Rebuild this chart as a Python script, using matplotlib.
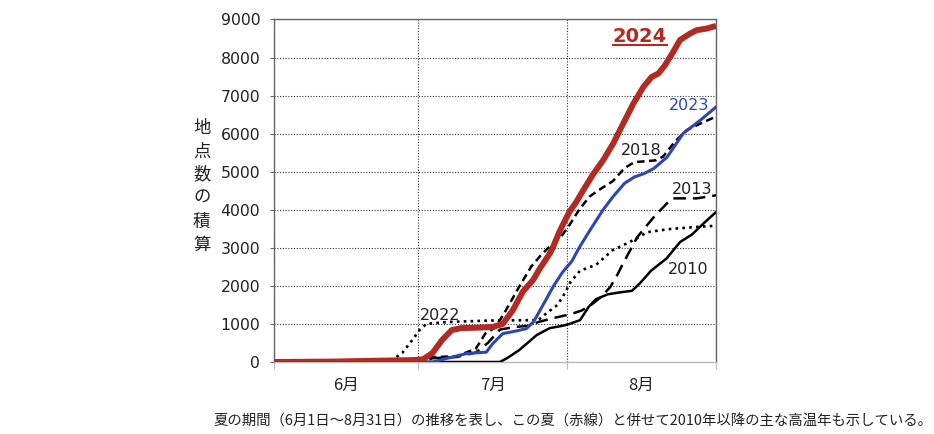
import matplotlib.pyplot as plt
from matplotlib.lines import Line2D
from matplotlib.ticker import FixedLocator, NullFormatter

plt.rcParams['font.family'] = ['DejaVu Sans', 'Noto Sans CJK JP']
jp = ['Noto Sans CJK JP', 'DejaVu Sans']

# days counted from June 1 (June = 0-30, July = 30-61, August = 61-92)
month_edges = [0, 30, 61, 92]
month_labels = ['6月', '7月', '8月']

d2024 = [0, 12, 20, 29, 31, 33, 35, 37, 39, 42, 45.5, 47.6, 49.7, 51.8, 53.9, 55.3, 57.4, 58,
         59.5, 61.5, 62.9, 64.3, 66.4, 68.5, 70.6, 72.7, 74.8, 76.9, 78.6, 80, 81.4, 83.1,
         84.5, 86.6, 88, 90, 92]
v2024 = [0, 10, 30, 50, 70, 240, 580, 840, 890, 900, 920, 1000, 1360, 1850, 2150, 2450, 2850, 3000,
         3450, 3950, 4200, 4500, 4930, 5300, 5740, 6270, 6790, 7230, 7490, 7580, 7800, 8150,
         8460, 8630, 8720, 8760, 8830]

d2023 = [0, 33, 35.8, 40, 44.2, 45.5, 47.6, 50.4, 52.5, 54, 56, 58.2, 60, 62, 63.5, 65.7, 68.5,
         70.6, 73, 75, 77, 79, 81.8, 85.2, 88.7, 92]
v2023 = [0, 0, 90, 220, 260, 480, 745, 815, 875, 1050, 1500, 2000, 2350, 2650, 3000, 3450, 4000,
         4350, 4700, 4860, 4950, 5080, 5380, 6010, 6350, 6700]

d2018 = [0, 31, 33, 38, 42, 44, 46, 48, 51, 53.5, 55.5, 57.5, 59.5, 61.5, 63.5, 65.7, 68, 70.5,
         73, 75, 79.5, 81, 83.5, 86, 88.5, 92]
v2018 = [0, 0, 130, 150, 350, 750, 900, 1300, 1970, 2500, 2800, 3050, 3250, 3600, 4000, 4350,
         4550, 4750, 5100, 5250, 5300, 5400, 5800, 6100, 6250, 6450]

d2013 = [0, 31, 33, 38, 42, 44.5, 47, 50, 53, 55, 58, 61.5, 64, 66, 68, 70, 71.5, 72.7, 75.6,
         79, 81.8, 83, 88, 92]
v2013 = [0, 0, 100, 130, 250, 500, 850, 920, 950, 1050, 1150, 1250, 1350, 1500, 1700, 1970,
         2300, 2600, 3280, 3800, 4170, 4300, 4300, 4380]

d2010 = [0, 47, 48.5, 51, 54.7, 57.4, 60, 61.5, 63.7, 65.5, 67, 69.5, 72, 74.5, 76.1, 78.5,
         81.7, 84.5, 87, 89.4, 92]
v2010 = [0, 0, 100, 310, 710, 890, 950, 1000, 1100, 1450, 1650, 1780, 1830, 1870, 2060, 2400,
         2720, 3150, 3350, 3640, 3940]

d2022 = [0, 15, 20, 24.6, 26.7, 28.8, 30.3, 31.7, 36, 45, 55, 56.7, 59, 60.5, 61.7, 63.7, 67,
         70.5, 74, 77.7, 82, 88, 92]
v2022 = [0, 0, 20, 50, 240, 580, 840, 1000, 1050, 1090, 1100, 1280, 1500, 1800, 2100, 2400,
         2550, 2940, 3150, 3410, 3490, 3550, 3580]

# year labels: (text, day, value)
year_labels = [('2023', 86.4, 6612), ('2018', 76.4, 5432), ('2013', 87.0, 4421),
               ('2010', 86.2, 2322), ('2022', 34.6, 1102)]

red = '#b22b22'
blue = '#2f45b5'

fig = plt.figure(figsize=(9.34, 4.34), dpi=100)
ax = fig.add_axes([0.2934, 0.1659, 0.4732, 0.7892])

ax.plot(d2022, v2022, color='black', lw=1.9, ls=(0, (1, 1.6)), zorder=3)
ax.plot(d2010, v2010, color='black', lw=1.8, zorder=3)
ax.plot(d2013, v2013, color='black', lw=1.8, ls=(0, (5, 2.8)), zorder=3)
ax.plot(d2018, v2018, color='black', lw=1.8, ls=(0, (3, 1.8)), zorder=3)
ax.plot(d2023, v2023, color=blue, lw=2.2, zorder=4)
ax.plot(d2024, v2024, color=red, lw=4.3, zorder=5, solid_capstyle='butt')

for txt, x, y in year_labels:
    ax.text(x, y, txt, ha='center', va='baseline', fontsize=11.5,
            color=blue if txt == '2023' else '#222222', zorder=6)

t24 = ax.text(76.2, 8397, '2024', ha='center', va='baseline', fontsize=14,
              fontweight='bold', color=red, zorder=6)

ax.set_xlim(0, 92)
ax.set_ylim(0, 9000)
ax.set_yticks(range(0, 9001, 1000))
ax.tick_params(axis='y', labelsize=11.3, length=3, pad=7, color='#666666', labelcolor='#222222')

ax.xaxis.set_major_locator(FixedLocator(month_edges))
ax.xaxis.set_major_formatter(NullFormatter())
centers = [(month_edges[i] + month_edges[i + 1]) / 2 for i in range(3)]
ax.set_xticks(centers, minor=True)
ax.set_xticklabels(month_labels, minor=True, family=jp, fontsize=12, color='#222222')
ax.tick_params(axis='x', which='major', length=5, color='#bbbbbb')
ax.tick_params(axis='x', which='minor', length=0, pad=11)

ax.grid(True, axis='y', color='#333333', lw=0.8, ls=(0, (1, 1.5)))
ax.grid(True, axis='x', which='major', color='#333333', lw=0.8, ls=(0, (1, 1.5)))
for s in ax.spines.values():
    s.set_color('#666666')
    s.set_linewidth(1)
ax.spines['bottom'].set_color('#bbbbbb')

# vertical y-axis title, one character per row
ylabel = '地点数の積算'
for i, ch in enumerate(ylabel):
    fig.text(0.216, 1 - (128 + i * 23.4) / 434, ch, ha='center', va='center',
             family=jp, fontsize=12.5, color='#222222')

fig.text(0.229, 0.028,
         '夏の期間（6月1日～8月31日）の推移を表し、この夏（赤線）と併せて2010年以降の主な高温年も示している。',
         ha='left', va='center', family=jp, fontsize=10.4, color='#222222')

# underline under the 2024 label
fig.canvas.draw()
bb = t24.get_window_extent()
base = ax.transData.transform((76.2, 8397))[1] - 2.5
inv = fig.transFigure.inverted()
(x0, yb), (x1, _) = inv.transform([(bb.x0, base), (bb.x1, base)])
fig.add_artist(Line2D([x0, x1], [yb, yb], color=red, lw=1.5, transform=fig.transFigure))

fig.savefig('out.png', dpi=100)
